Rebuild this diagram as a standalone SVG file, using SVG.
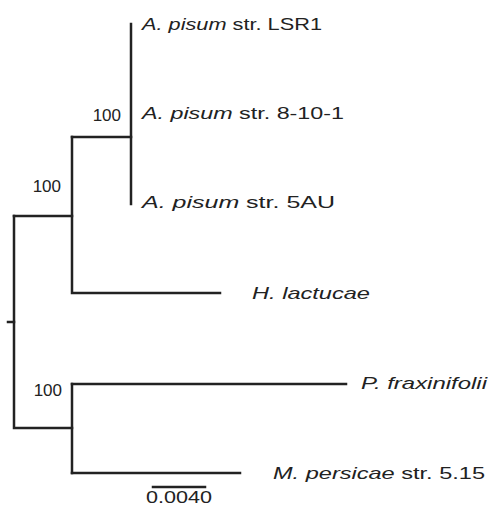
<svg xmlns="http://www.w3.org/2000/svg" width="488" height="508" viewBox="0 0 488 508">
<style>
.br{stroke:#222;stroke-width:2.5;fill:none;stroke-linecap:square}
.lb{font-family:"Liberation Sans",Arial,sans-serif;font-size:17px;fill:#222}
.bs{font-family:"Liberation Sans",Arial,sans-serif;font-size:17px;fill:#222}
.it{font-style:italic}
</style>
<rect width="488" height="508" fill="#fff"/>
<g id="connectors">
<path class="br" d="M131,24V204"/>
<path class="br" d="M72,137H131"/>
<path class="br" d="M72,137V293H220"/>
<path class="br" d="M14,216H72"/>
<path class="br" d="M14,216V428H72"/>
<path class="br" d="M8,322H14"/>
<path class="br" d="M72,384V473"/>
<path class="br" d="M72,384H346"/>
<path class="br" d="M72,473H240"/>
</g>
<g id="n_lsr1"><text class="lb" x="142" y="30" textLength="180" lengthAdjust="spacingAndGlyphs"><tspan class="it">A. pisum</tspan> str. LSR1</text></g>
<g id="n_8101"><text class="lb" x="142" y="119" textLength="202" lengthAdjust="spacingAndGlyphs"><tspan class="it">A. pisum</tspan> str. 8-10-1</text></g>
<g id="n_5au"><text class="lb" x="142" y="208" textLength="193" lengthAdjust="spacingAndGlyphs"><tspan class="it">A. pisum</tspan> str. 5AU</text></g>
<g id="n_hlac"><text class="lb it" x="252" y="299" textLength="118" lengthAdjust="spacingAndGlyphs">H. lactucae</text></g>
<g id="n_pfrax"><text class="lb it" x="361" y="389" textLength="126" lengthAdjust="spacingAndGlyphs">P. fraxinifolii</text></g>
<g id="n_mper"><text class="lb" x="273" y="479" textLength="212" lengthAdjust="spacingAndGlyphs"><tspan class="it">M. persicae</tspan> str. 5.15</text></g>
<g id="n_bs1"><text class="bs" x="121" y="121" text-anchor="end">100</text></g>
<g id="n_bs2"><text class="bs" x="61" y="192" text-anchor="end">100</text></g>
<g id="n_bs3"><text class="bs" x="62" y="396" text-anchor="end">100</text></g>
<g id="scale">
<path class="br" d="M153,487H205"/>
<text class="bs" x="179" y="503" text-anchor="middle" textLength="66" lengthAdjust="spacingAndGlyphs">0.0040</text>
</g>
</svg>
